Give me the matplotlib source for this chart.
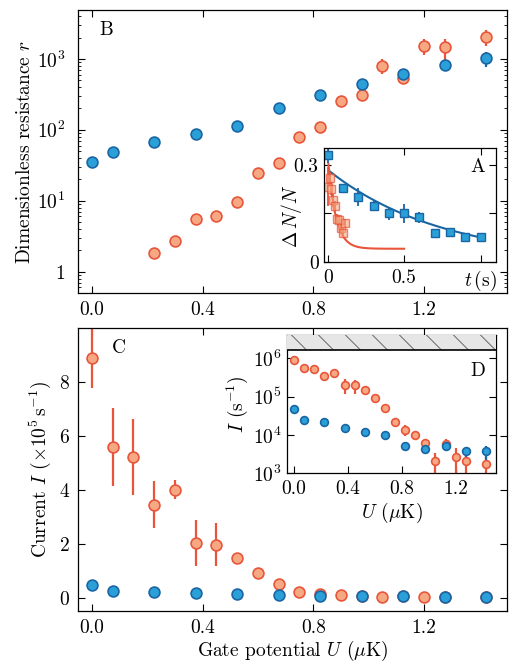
import numpy as np
import matplotlib
matplotlib.use("Agg")
import matplotlib.pyplot as plt
from matplotlib.patches import Rectangle

plt.rcParams.update({
    "font.family": "serif",
    "font.serif": ["cmr10", "DejaVu Serif"],
    "mathtext.fontset": "cm",
    "axes.formatter.use_mathtext": True,
    "font.size": 14,
    "axes.linewidth": 0.9,
})

# ---------------- data ----------------
U_blue = [0.0, 0.075, 0.225, 0.375, 0.525, 0.675, 0.825, 0.975, 1.125, 1.275, 1.425]
U_orange = [0.0, 0.075, 0.15, 0.225, 0.3, 0.375, 0.45, 0.525, 0.6, 0.675, 0.75,
            0.825, 0.9, 0.975, 1.05, 1.125, 1.2, 1.275, 1.425]

r_blue = [35, 49, 68, 86, 115, 204, 310, 450, 620, 815, 1020]
r_blue_err = [0, 0, 0, 0, 0, 0, 0, 0, 40, 60, 250]
r_orange = [np.nan, np.nan, np.nan, 1.85, 2.67, 5.6, 6.0, 9.5, 24.6, 34, 79,
            108, 257, 310, 800, 535, 1520, 1460, 2040]
r_orange_err = [0, 0, 0, 0, 0, 0, 0, 0, 0, 0, 0, 0, 0, 0, 190, 60, 400, 480, 500]

I_blue = [4.7e4, 2.46e4, 2.2e4, 1.5e4, 1.2e4, 1.0e4, 5.0e3, 4.2e3, 5.0e3, 3.7e3, 3.7e3]
I_blue_err = [3e3, 7e3, 2e3, 2.5e3, 2.5e3, 1.5e3, 1.2e3, 1.0e3, 1.2e3, 1.2e3, 1.5e3]
I_orange = [8.9e5, 5.57e5, 5.22e5, 3.44e5, 4.0e5, 2.02e5, 1.96e5, 1.48e5, 9.2e4,
            5.1e4, 2.2e4, 1.35e4, 1.0e4, 6.0e3, 2.1e3, 5.7e3, 2.7e3, 2.1e3, 1.7e3]
I_orange_err = [1.12e5, 1.45e5, 1.4e5, 0.87e5, 0.36e5, 0.85e5, 0.8e5, 0.1e5, 0.08e5,
                0.05e4, 3e3, 4.4e3, 1e3, 1.2e3, 1.2e3, 2e3, 1.9e3, 1.2e3, 1.0e3]

t_blue = [0.0, 0.1, 0.2, 0.3, 0.4, 0.5, 0.6, 0.7, 0.8, 0.9, 1.0]
dN_blue = [0.328, 0.227, 0.199, 0.172, 0.149, 0.149, 0.137, 0.088, 0.091, 0.075, 0.077]
dN_blue_err = [0.024, 0.01, 0.028, 0.014, 0.02, 0.03, 0.018, 0.006, 0.012, 0.005, 0.009]
t_orange = [0.0, 0.0125, 0.025, 0.0375, 0.05, 0.0625, 0.075, 0.0875, 0.1, 0.1125]
dN_orange = [0.231, 0.257, 0.226, 0.19, 0.172, 0.131, 0.129, 0.103, 0.088, 0.118]
dN_orange_err = [0.06, 0.02, 0.02, 0.02, 0.015, 0.015, 0.015, 0.015, 0.015, 0.015]

# exponential fits: A * exp(-t / tau) + c
fit_blue = dict(A=0.284, tau=0.75, c=0.0, t0=0.01, t1=1.0)
fit_orange = dict(A=0.29, tau=0.05, c=0.04, t0=0.005, t1=0.5)

# ---------------- style ----------------
BLUE_F, BLUE_E = "#2a9fd8", "#1a65a3"
OR_F, OR_E = "#f6a883", "#e8553a"

W, H = 525, 664
fig = plt.figure(figsize=(W / 100, H / 100), dpi=100)


def fa(l, t, r, b):
    return [l / W, 1 - b / H, (r - l) / W, (b - t) / H]


def ticks(ax, xpad=6, ypad=6):
    ax.tick_params(which="both", direction="in", top=True, right=True)
    ax.tick_params(which="major", length=5, width=0.8)
    ax.tick_params(which="minor", length=2.5, width=0.6)
    ax.tick_params(axis="x", pad=xpad)
    ax.tick_params(axis="y", pad=ypad)


def circles(ax, x, y, yerr, fc, ec, ms):
    ax.errorbar(x, y, yerr=yerr, fmt="o", ms=ms, mfc=fc, mec=ec, mew=1.2,
                ecolor=ec, elinewidth=1.6, capsize=0)


xt = [0.0, 0.4, 0.8, 1.2]
xtl = ["0.0", "0.4", "0.8", "1.2"]

# ---------------- panel B ----------------
axB = fig.add_axes(fa(78, 10, 507, 293))
circles(axB, U_orange, r_orange, r_orange_err, OR_F, OR_E, 7.8)
circles(axB, U_blue, r_blue, r_blue_err, BLUE_F, BLUE_E, 7.8)
axB.set_yscale("log")
axB.set_xlim(-0.05, 1.5)
axB.set_ylim(0.5, 4900)
axB.set_xticks(xt, xtl)
axB.set_yticks([1, 10, 100, 1000], ["1", "$10^1$", "$10^2$", "$10^3$"])
axB.set_ylabel("Dimensionless resistance $r$", labelpad=2)
ticks(axB, ypad=9)
axB.text(0.05, 0.93, "B", transform=axB.transAxes, ha="left", va="center")

# ---------------- inset A ----------------
axA = fig.add_axes(fa(324.3, 147.7, 496, 261.7))
for f, col in ((fit_blue, BLUE_E), (fit_orange, OR_E)):
    tt = np.linspace(f["t0"], f["t1"], 300)
    axA.plot(tt, f["A"] * np.exp(-tt / f["tau"]) + f["c"], color=col, lw=1.5)
axA.errorbar(t_orange, dN_orange, yerr=dN_orange_err, fmt="s", ms=6,
             mfc=(0.965, 0.66, 0.51, 0.6), mec=(0.91, 0.33, 0.23, 0.7), mew=1.0,
             ecolor=OR_E, elinewidth=1.3, capsize=0)
axA.errorbar(t_blue, dN_blue, yerr=dN_blue_err, fmt="s", ms=6, mfc=BLUE_F,
             mec=BLUE_E, mew=1.0, ecolor=BLUE_E, elinewidth=1.3, capsize=0)
axA.set_xlim(-0.022, 1.1)
axA.set_ylim(0, 0.352)
axA.set_xticks([0, 0.5, 1.0], ["0", "0.5", "$t\\,$(s)"])
axA.set_yticks([0, 0.15, 0.3], ["0", "", "0.3"])
ticks(axA, xpad=5, ypad=4)
axA.set_ylabel("$\\Delta\\, N/N$")
axA.yaxis.set_label_coords(-0.12, 0.40)
axA.text(0.895, 0.83, "A", transform=axA.transAxes, ha="center", va="center")

# ---------------- panel C ----------------
axC = fig.add_axes(fa(78, 328, 507, 611))
circles(axC, U_orange, np.array(I_orange) / 1e5, np.array(I_orange_err) / 1e5,
        OR_F, OR_E, 7.8)
circles(axC, U_blue, np.array(I_blue) / 1e5, np.array(I_blue_err) / 1e5,
        BLUE_F, BLUE_E, 7.8)
axC.set_xlim(-0.05, 1.5)
axC.set_ylim(-0.5, 10.0)
axC.set_xticks(xt, xtl)
axC.set_yticks([0, 2, 4, 6, 8])
axC.set_ylabel("Current $I$ $(\\times 10^5\\,\\mathrm{s}^{-1})$")
axC.set_xlabel("Gate potential $U$ $(\\mu\\mathrm{K})$", labelpad=1)
ticks(axC)
axC.text(0.08, 0.93, "C", transform=axC.transAxes, ha="left", va="center")

# ---------------- inset D ----------------
axD = fig.add_axes(fa(287.3, 335, 496, 473.3))
circles(axD, U_orange, I_orange, I_orange_err, OR_F, OR_E, 5.6)
circles(axD, U_blue, I_blue, I_blue_err, BLUE_F, BLUE_E, 5.6)
axD.set_yscale("log")
axD.set_xlim(-0.05, 1.5)
axD.set_ylim(1e3, 4e6)
axD.set_xticks(xt, xtl)
axD.set_yticks([1e3, 1e4, 1e5, 1e6])
ticks(axD, xpad=5, ypad=4)
axD.set_xlabel("$U$ $(\\mu\\mathrm{K})$", labelpad=2)
axD.set_ylabel("$I$ $(\\mathrm{s}^{-1})$", labelpad=2)
axD.text(0.914, 0.74, "D", transform=axD.transAxes, ha="center", va="center")

# hatched saturation band at top of D
band_lo = 1.65e6
band = Rectangle((-0.05, band_lo), 1.55, 4e6 - band_lo, fc="#e6e6e6",
                 ec="none", zorder=3)
axD.add_patch(band)
axD.axhline(band_lo, color="k", lw=1.2, zorder=4)
fig.canvas.draw()
bb = axD.get_window_extent()
ax_w, ax_h = bb.width, bb.height
frac_h = (1 - (np.log10(band_lo) - 3) / (np.log10(4e6) - 3))
dx = frac_h * ax_h / ax_w
for x0 in np.arange(0.02, 1.1, 27 / ax_w):
    ln, = axD.plot([x0, x0 + dx], [1, 1 - frac_h], transform=axD.transAxes,
                   color="#555555", lw=0.6, zorder=3.5)
    ln.set_clip_path(band)

fig.savefig("out.png", dpi=100)
